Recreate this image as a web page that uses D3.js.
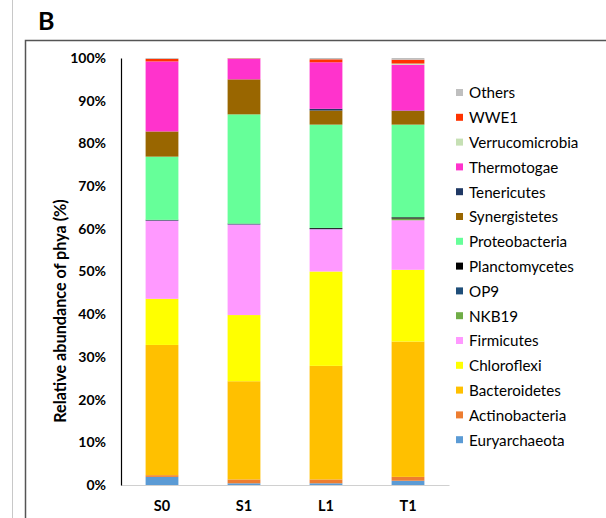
<!DOCTYPE html>
<html>
<head>
<meta charset="utf-8">
<script src="https://cdn.jsdelivr.net/npm/d3@7"></script>
<style>
  html, body { margin: 0; padding: 0; background: #fff; }
  svg { display: block; font-family: Lato, "Open Sans", sans-serif; }
</style>
</head>
<body>
<svg id="chart" width="606" height="518"></svg>
<script>
// Samples along the x axis
const samples = ["S0", "S1", "L1", "T1"];

// Phyla, bottom of the stack first
const phyla = ["Euryarchaeota", "Actinobacteria", "Bacteroidetes", "Chloroflexi", "Firmicutes",
  "NKB19", "OP9", "Planctomycetes", "Proteobacteria", "Synergistetes", "Tenericutes",
  "Thermotogae", "Verrucomicrobia", "WWE1", "Others"];

const phylumColors = ["#5B9BD5", "#ED7D31", "#FFC000", "#FFFF00", "#FF99FF",
  "#70AD47", "#1F4E79", "#000000", "#66FF99", "#996600", "#1F3864",
  "#FF33CC", "#C6E0B4", "#FF3300", "#BFBFBF"];

// Relative abundance (%) per phylum, one value per sample (S0, S1, L1, T1)
const Euryarchaeota   = [1.9, 0.4, 0.4, 1.0];
const Actinobacteria  = [0.4, 0.9, 0.9, 0.9];
const Bacteroidetes   = [30.5, 23.0, 26.6, 31.7];
const Chloroflexi     = [10.8, 15.5, 22.1, 16.8];
const Firmicutes      = [18.3, 21.2, 9.9, 11.6];
const NKB19           = [0.0, 0.0, 0.0, 0.4];
const OP9             = [0.1, 0.1, 0.1, 0.0];
const Planctomycetes  = [0.1, 0.1, 0.2, 0.3];
const Proteobacteria  = [14.8, 25.6, 24.2, 21.7];
const Synergistetes   = [5.9, 8.2, 3.3, 3.2];
const Tenericutes     = [0.0, 0.0, 0.4, 0.1];
const Thermotogae     = [16.4, 4.8, 10.9, 10.7];
const Verrucomicrobia = [0.0, 0.0, 0.0, 0.3];
const WWE1            = [0.6, 0.1, 0.7, 0.9];
const Others          = [0.2, 0.1, 0.3, 0.4];

const yTicks = [0, 10, 20, 30, 40, 50, 60, 70, 80, 90, 100];

const series = {Euryarchaeota, Actinobacteria, Bacteroidetes, Chloroflexi, Firmicutes,
  NKB19, OP9, Planctomycetes, Proteobacteria, Synergistetes, Tenericutes,
  Thermotogae, Verrucomicrobia, WWE1, Others};

const rows = samples.map((s, i) => {
  const r = {sample: s};
  phyla.forEach(p => { r[p] = series[p][i]; });
  return r;
});

const svg = d3.select("#chart");

// page edge line and panel frame
svg.append("line").attr("x1", 12.5).attr("x2", 12.5).attr("y1", 0).attr("y2", 518)
  .attr("stroke", "#c8c8c8").attr("stroke-width", 1);
svg.append("rect").attr("x", 25.5).attr("y", 40.5).attr("width", 620).attr("height", 520)
  .attr("fill", "none").attr("stroke", "#555").attr("stroke-width", 1.5);

svg.append("text").attr("x", 38).attr("y", 30).text("B")
  .attr("font-size", 25).attr("font-weight", "bold").attr("fill", "#000");

const x = d3.scaleBand().domain(samples).range([121, 449]).paddingInner(0.6).paddingOuter(0.3);
const y = d3.scaleLinear().domain([0, 100]).range([485, 58]);
const color = d3.scaleOrdinal().domain(phyla).range(phylumColors);

const stacked = d3.stack().keys(phyla)(rows);

svg.append("g").selectAll("g").data(stacked).join("g")
  .attr("fill", d => color(d.key))
  .selectAll("rect").data(d => d).join("rect")
  .attr("x", d => x(d.data.sample))
  .attr("width", x.bandwidth())
  .attr("y", d => y(d[1]))
  .attr("height", d => Math.max(0, y(d[0]) - y(d[1])));

// x axis (light grey baseline, no ticks)
const xAxis = svg.append("g").attr("transform", `translate(0,${y(0)})`)
  .call(d3.axisBottom(x).tickSize(0).tickPadding(16));
xAxis.select(".domain").attr("stroke", "#d0d0d0").attr("stroke-width", 1.2);
xAxis.selectAll("text").attr("font-size", 14.5).attr("font-weight", "bold")
  .attr("font-family", "Lato, sans-serif").attr("fill", "#000");

// y axis
const yAxis = svg.append("g").attr("transform", `translate(121,0)`)
  .call(d3.axisLeft(y).tickValues(yTicks).tickSize(0).tickPadding(15)
    .tickFormat(d => d + "%"));
yAxis.select(".domain").attr("stroke", "#000").attr("stroke-width", 1.2);
yAxis.selectAll("text").attr("font-size", 14).attr("font-weight", "bold")
  .attr("font-family", "Lato, sans-serif").attr("fill", "#000");

svg.append("text")
  .attr("transform", `translate(66,${311}) rotate(-90)`)
  .attr("text-anchor", "middle")
  .attr("font-size", 16.2).attr("font-weight", "bold").attr("fill", "#000")
  .text("Relative abundance of phya (%)");

// legend, top entry is the top of the stack
const legendItems = phyla.slice().reverse();
const legend = svg.append("g").selectAll("g").data(legendItems).join("g")
  .attr("transform", (d, i) => `translate(456,${93 + i * 24.8})`);
legend.append("rect").attr("x", 0).attr("y", -4).attr("width", 7).attr("height", 7)
  .attr("fill", d => color(d));
legend.append("text").attr("x", 13).attr("y", 0).attr("dy", "0.35em")
  .attr("font-size", 15.2).attr("fill", "#000").text(d => d);
</script>
</body>
</html>
